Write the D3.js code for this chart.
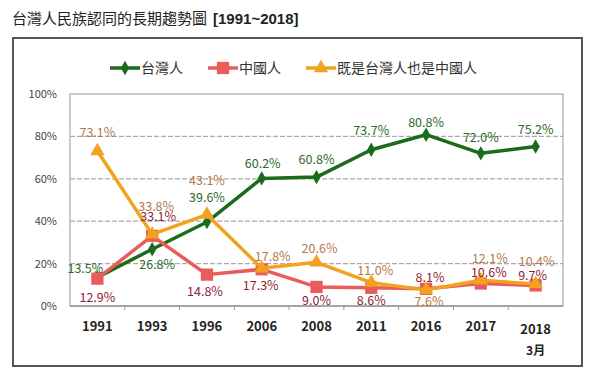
<!DOCTYPE html>
<html>
<head>
<meta charset="utf-8">
<script src="https://cdn.jsdelivr.net/npm/d3@7"></script>
<style>
  body { margin: 0; background: #fff; }
  text { font-family: "Noto Sans CJK TC", "Noto Sans", sans-serif; }
</style>
</head>
<body>
<svg id="chart" width="600" height="383"></svg>
<script>
// data
var years = ["1991", "1993", "1996", "2006", "2008", "2011", "2016", "2017", "2018"];
var taiwanese = [13.5, 26.8, 39.6, 60.2, 60.8, 73.7, 80.8, 72.0, 75.2];
var chinese = [12.9, 33.1, 14.8, 17.3, 9.0, 8.6, 8.1, 10.6, 9.7];
var both = [73.1, 33.8, 43.1, 17.8, 20.6, 11.0, 7.6, 12.1, 10.4];
var seriesNames = ["台灣人", "中國人", "既是台灣人也是中國人"];
var yTicks = [0, 20, 40, 60, 80, 100];

// label offsets (dx, dy) from each point, px
var offTw = [[-12, -9], [5, 15], [0, -25], [1, -15], [0, -18], [0, -19], [0, -12], [0, -16], [0, -17]];
var offCn = [[0, 19], [6, -19], [-2, 17], [-1, 16], [0, 14], [0, 13], [4, -11], [8, -11], [-3, -10]];
var offBo = [[0, -19], [4, -28], [0, -34], [11, -12], [3, -14], [4, -12], [3, 12], [9, -22], [1, -22]];

var svg = d3.select("#chart");
var margin = {left: 70, right: 37, top: 94, bottom: 77};
var W = 600, H = 383;

var title = svg.append("text").attr("x", 12).attr("y", 24)
  .attr("font-size", 15).attr("fill", "#222");
title.append("tspan").text("台灣人民族認同的長期趨勢圖");
title.append("tspan").attr("dx", 6).attr("font-weight", "bold")
  .attr("font-family", "'Liberation Sans', Arial, sans-serif").text("[1991~2018]");

svg.append("rect").attr("x", 13).attr("y", 38).attr("width", 569).attr("height", 328)
  .attr("fill", "none").attr("stroke", "#555").attr("stroke-width", 2);

var x = d3.scaleBand().domain(years).range([margin.left, W - margin.right]);
var y = d3.scaleLinear().domain([0, 100]).range([H - margin.bottom, margin.top]);

var g = svg.append("g");

// grid
g.selectAll(".grid").data(yTicks.filter(function(d){ return d > 0 && d < 100; }))
  .enter().append("line")
  .attr("x1", margin.left).attr("x2", W - margin.right)
  .attr("y1", function(d){ return y(d); }).attr("y2", function(d){ return y(d); })
  .attr("stroke", "#aaa").attr("stroke-width", 1.2).attr("stroke-dasharray", "5,2");

g.append("rect").attr("x", margin.left).attr("y", y(100))
  .attr("width", W - margin.right - margin.left).attr("height", y(0) - y(100))
  .attr("fill", "none").attr("stroke", "#aaa").attr("stroke-width", 1.2);

// y axis
var yAxis = d3.axisLeft(y).tickValues(yTicks).tickSize(0).tickFormat(function(d){ return d + "%"; });
var ya = g.append("g").attr("transform", "translate(" + (margin.left - 10) + ",0)").call(yAxis);
ya.select(".domain").remove();
ya.selectAll("text").attr("font-size", 11).attr("fill", "#444")
  .attr("font-family", "'DejaVu Sans', sans-serif");

// x axis
g.append("line").attr("x1", margin.left).attr("x2", W - margin.right)
  .attr("y1", y(0)).attr("y2", y(0)).attr("stroke", "#999").attr("stroke-width", 1.5);
g.selectAll(".xt").data(years.slice(1)).enter().append("line")
  .attr("x1", function(d){ return x(d); }).attr("x2", function(d){ return x(d); })
  .attr("y1", y(0)).attr("y2", y(0) + 4).attr("stroke", "#999");
g.selectAll(".xl").data(years).enter().append("text")
  .attr("x", function(d){ return x(d) + x.bandwidth() / 2; })
  .attr("y", function(d, i){ return i === years.length - 1 ? 334 : 331; })
  .attr("text-anchor", "middle").attr("font-size", 13).attr("font-weight", "bold")
  .attr("fill", "#222").attr("font-family", "'DejaVu Sans', sans-serif")
  .text(function(d){ return d; });
g.append("text").attr("x", x("2018") + x.bandwidth() / 2).attr("y", 355)
  .attr("text-anchor", "middle").attr("font-size", 12).attr("font-weight", "bold")
  .attr("fill", "#222").text("3月");

var cx = function(d, i){ return x(years[i]) + x.bandwidth() / 2; };
var line = d3.line().x(function(d, i){ return x(years[i]) + x.bandwidth() / 2; }).y(function(d){ return y(d); });

var series = [
  {vals: taiwanese, color: "#1b6b1b", lab: "#2a6a2a", sym: d3.symbolDiamond, size: 60, off: offTw},
  {vals: chinese, color: "#ea5b5b", lab: "#8e2335", sym: d3.symbolSquare, size: 150, off: offCn},
  {vals: both, color: "#f2a21e", lab: "#b5794a", sym: d3.symbolTriangle, size: 90, off: offBo}
];

series.forEach(function(s){
  g.append("path").attr("d", line(s.vals)).attr("fill", "none")
    .attr("stroke", s.color).attr("stroke-width", 3.5).attr("stroke-linejoin", "round");
  g.selectAll(null).data(s.vals).enter().append("path")
    .attr("d", d3.symbol().type(s.sym).size(s.size))
    .attr("transform", function(d, i){ return "translate(" + cx(d, i) + "," + y(d) + ")"; })
    .attr("fill", s.color);
});

series.forEach(function(s){
  g.selectAll(null).data(s.vals).enter().append("text")
    .attr("x", function(d, i){ return cx(d, i) + s.off[i][0]; })
    .attr("y", function(d, i){ return y(d) + s.off[i][1] + 4.5; })
    .attr("text-anchor", "middle").attr("font-size", 12.5).attr("fill", s.lab)
    .attr("font-family", "'DejaVu Sans', sans-serif")
    .text(function(d){ return d.toFixed(1) + "%"; });
});

// legend
var legX = [110, 208, 306];
series.forEach(function(s, i){
  var lg = svg.append("g").attr("transform", "translate(" + legX[i] + ",68)");
  lg.append("line").attr("x1", 0).attr("x2", 30).attr("stroke", s.color).attr("stroke-width", 3.5);
  lg.append("path").attr("d", d3.symbol().type(s.sym).size(s.size)).attr("transform", "translate(15,0)")
    .attr("fill", s.color);
  lg.append("text").attr("x", 31).attr("y", 5).attr("font-size", 14).attr("fill", "#333")
    .text(seriesNames[i]);
});
</script>
</body>
</html>
